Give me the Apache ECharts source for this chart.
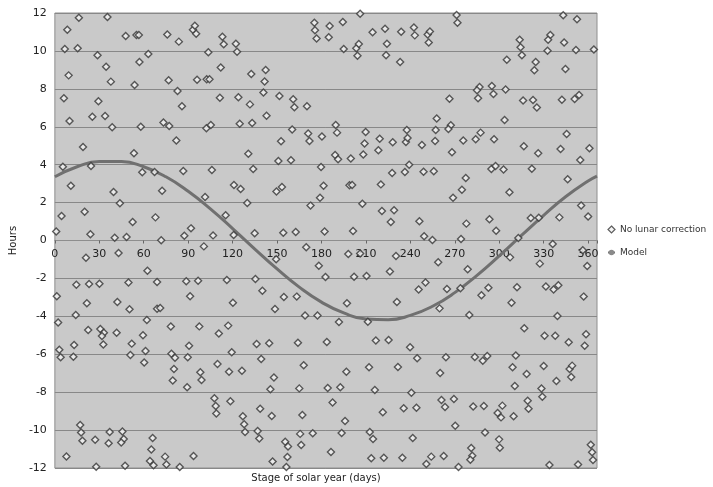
<!DOCTYPE html>
<html>
<head>
<meta charset="utf-8">
<script src="https://cdn.jsdelivr.net/npm/echarts@6/dist/echarts.min.js"></script>
<style>
html,body{margin:0;padding:0;background:#fff;}
#chart{width:713px;height:487px;}
</style>
</head>
<body>
<div id="chart"></div>
<script>
// ---- Data ----
const xTicks = [0, 30, 60, 90, 120, 150, 180, 210, 240, 270, 300, 330, 360];
const yTicks = [-12, -10, -8, -6, -4, -2, 0, 2, 4, 6, 8, 10, 12];
const seriesNames = ['No lunar correction', 'Model'];

// [day of solar year, hours]
const noLunarCorrection = [
[8.4,11.12],[16.2,11.75],[35.5,11.79],[6.7,10.10],[15.4,10.14],[9.3,8.71],[6.1,7.50],[9.9,6.30],[28.8,9.77],[34.6,9.17],[37.8,8.38],[29.4,7.34],[25.3,6.53],[33.9,6.57],[38.7,5.97],[19.0,4.93],[47.8,10.79],[55.1,10.84],[56.7,10.84],[57.1,9.41],[63.1,9.84],[53.8,8.20],[58.0,6.00],[53.4,4.60],[75.9,10.86],[83.7,10.49],[76.8,8.45],[82.8,7.89],[85.8,7.08],[73.3,6.23],[77.2,6.04],[82.0,5.28],[93.2,11.12],[94.5,11.33],[95.4,10.91],[96.0,8.48],[103.6,9.93],[102.5,8.50],[104.4,8.50],[112.0,9.13],[111.4,7.53],[102.3,5.92],[105.3,6.09],[113.1,10.75],[114.0,10.35],[122.2,10.38],[123.0,9.96],[123.9,7.55],[124.8,6.16],[130.6,4.58],
[132.6,8.78],[131.7,7.18],[133.2,6.20],[142.3,8.99],[141.6,8.39],[140.8,7.81],[142.9,6.58],[151.6,7.62],[160.9,7.45],[161.7,7.03],[170.2,7.08],[152.7,5.23],[160.2,5.85],[150.9,4.19],[159.4,4.23],[175.2,11.49],[175.6,11.09],[176.7,10.66],[185.5,11.31],[184.9,10.72],[194.4,11.52],[206.1,11.96],[195.0,10.10],[203.5,10.14],[205.2,10.36],[204.3,9.75],[214.5,10.98],[222.9,11.17],[224.2,10.38],[223.6,9.77],[233.8,11.01],[233.1,9.41],[242.4,11.23],[243.0,10.82],[251.7,10.86],[253.2,11.03],[252.4,10.45],[271.2,11.89],[271.8,11.49],[171.0,5.65],[171.9,5.25],[180.3,5.48],[189.6,6.09],[190.5,5.69],[189.2,4.51],[191.2,4.28],[199.8,4.33],[208.2,4.54],[209.1,5.12],[209.8,5.72],[218.4,4.76],[219.3,5.37],[228.1,5.18],[237.0,5.20],[238.1,5.41],[237.6,5.83],[247.8,5.04],[256.7,5.25],[257.1,5.83],[257.8,6.44],[266.4,7.48],[267.3,6.08],[265.7,5.88],[268.1,4.65],[275.7,5.28],
[343.2,11.88],[352.5,11.67],[313.8,10.59],[314.4,10.19],[315.3,9.77],[334.5,10.84],[333.0,10.59],[332.6,10.01],[343.8,10.45],[351.8,10.05],[363.9,10.07],[305.1,9.54],[324.6,9.41],[323.7,8.98],[344.7,9.05],[286.7,8.10],[285.0,7.92],[285.7,7.50],[295.0,8.15],[296.1,7.73],[304.3,7.96],[316.1,7.38],[322.8,7.41],[325.4,7.01],[342.3,7.43],[350.9,7.46],[353.9,7.67],[303.6,6.36],[287.4,5.69],[284.1,5.34],[296.5,5.34],[316.6,4.97],[326.3,4.60],[341.4,4.83],[345.5,5.62],[360.9,4.86],[354.7,4.25],
[5.4,3.89],[24.4,3.93],[10.8,2.89],[4.5,1.29],[20.1,1.52],[0.9,0.48],[24.0,0.33],[39.6,2.56],[43.9,1.96],[40.4,0.15],[48.4,0.18],[52.5,0.98],[59.0,3.60],[67.3,3.61],[72.4,2.63],[67.9,1.22],[71.8,0.01],[86.7,3.67],[106.0,3.72],[101.4,2.29],[91.9,0.64],[87.4,0.25],[100.6,-0.31],[106.8,0.27],[115.3,1.33],[120.9,2.93],[125.4,2.72],[129.9,1.98],[120.7,0.29],[21.0,-0.91],[43.0,-0.66],[14.5,-2.33],[23.1,-2.29],[30.1,-2.28],[1.3,-2.94],[21.6,-3.31],[14.1,-3.93],[2.2,-4.33],[42.2,-3.24],[49.7,-2.22],[62.5,-1.59],[69.0,-2.19],[50.4,-3.63],[69.0,-3.60],[71.1,-3.56],[62.1,-4.19],[88.7,-2.15],[96.7,-2.12],[91.3,-2.94],[116.1,-2.08],[120.2,-3.28],
[133.9,3.77],[179.7,3.88],[181.4,2.89],[179.0,2.26],[172.6,1.84],[149.6,2.59],[153.3,2.82],[134.9,0.38],[154.2,0.41],[162.6,0.45],[182.1,0.48],[198.9,2.91],[200.7,2.93],[207.6,1.94],[201.3,0.50],[220.1,2.96],[220.8,1.56],[227.7,3.56],[229.0,1.59],[226.8,0.98],[236.3,3.61],[239.2,4.00],[248.9,3.63],[255.8,3.65],[246.1,1.01],[249.3,0.22],[254.9,0.03],[268.8,2.26],[274.8,2.68],[277.4,3.30],[277.8,0.89],[274.2,0.08],[169.7,-0.36],[149.4,-0.99],[178.2,-1.33],[182.7,-1.93],[198.1,-0.71],[202.0,-1.91],[210.4,-1.87],[206.1,-0.68],[230.3,-0.82],[226.2,-1.64],[258.8,-1.15],[278.7,-1.52],[135.4,-2.03],[140.1,-2.65],[154.6,-2.98],[163.3,-2.96],[148.6,-3.61],[168.9,-3.95],[177.3,-3.95],[191.8,-4.30],[197.2,-3.31],[211.3,-4.28],[230.9,-3.24],[245.6,-2.59],[250.2,-2.21],[259.7,-3.58],[264.7,-2.56],[273.8,-2.52],[279.8,-3.93],
[294.7,3.77],[297.5,3.93],[302.9,3.75],[322.0,3.79],[306.9,2.54],[346.2,3.23],[293.4,1.12],[297.9,0.52],[321.3,1.19],[326.7,1.20],[340.6,1.22],[355.3,1.85],[360.0,1.26],[312.9,0.13],[336.1,-0.18],[307.3,-0.89],[327.4,-1.22],[356.4,-0.52],[359.4,-1.34],[288.0,-2.89],[292.7,-2.49],[308.3,-3.28],[312.0,-2.47],[331.5,-2.43],[336.7,-2.59],[339.9,-2.36],[357.0,-2.96],[339.3,-3.98],
[22.5,-4.72],[30.7,-4.67],[33.1,-4.86],[31.8,-5.04],[32.7,-5.49],[41.7,-4.86],[59.5,-5.00],[78.3,-4.54],[97.5,-4.53],[117.0,-4.49],[3.0,-5.76],[3.9,-6.16],[13.0,-5.51],[12.5,-6.13],[51.9,-5.44],[51.0,-6.04],[61.2,-5.83],[60.3,-6.43],[90.6,-5.55],[78.7,-5.97],[81.1,-6.18],[80.4,-6.78],[79.6,-7.39],[89.7,-6.16],[89.3,-7.74],[98.2,-6.95],[99.0,-7.36],[110.7,-4.91],[109.8,-6.51],[119.4,-5.90],[117.6,-6.92],[126.3,-6.87],[118.5,-8.48],[107.7,-8.32],[108.6,-8.73],[109.0,-9.13],[126.9,-9.27],[127.8,-9.69],[128.4,-10.10],[17.1,-9.73],[17.7,-10.13],[18.6,-10.56],[7.8,-11.39],[27.2,-10.51],[37.0,-10.10],[36.3,-10.70],[27.9,-11.93],[45.6,-10.07],[46.5,-10.47],[44.8,-10.66],[47.4,-11.88],[66.0,-10.42],[65.1,-11.03],[64.2,-11.63],[66.6,-11.86],[74.4,-11.40],[75.3,-11.81],[84.3,-11.95],[93.6,-11.37],
[136.2,-5.46],[144.7,-5.42],[164.1,-5.39],[183.6,-5.35],[216.7,-5.28],[225.3,-5.25],[239.8,-5.63],[139.3,-6.25],[147.9,-7.23],[168.0,-6.58],[196.8,-6.92],[212.1,-6.69],[231.6,-6.67],[244.6,-6.21],[264.0,-6.16],[260.1,-6.99],[145.5,-7.85],[165.0,-7.80],[184.2,-7.78],[192.7,-7.74],[216.0,-7.88],[240.7,-8.03],[187.5,-8.55],[138.6,-8.87],[146.4,-9.26],[167.1,-9.20],[221.4,-9.06],[235.5,-8.85],[244.1,-8.82],[261.0,-8.41],[263.4,-8.78],[269.4,-8.36],[195.9,-9.52],[270.3,-9.77],[136.9,-10.05],[138.0,-10.45],[155.5,-10.61],[157.4,-10.86],[166.3,-10.79],[165.6,-10.20],[174.1,-10.17],[193.6,-10.15],[212.6,-10.10],[214.8,-10.47],[241.6,-10.42],[147.0,-11.66],[157.0,-11.42],[156.3,-11.95],[186.4,-11.16],[213.6,-11.49],[222.1,-11.46],[234.6,-11.46],[250.8,-11.79],[254.1,-11.40],[262.5,-11.37],[272.5,-11.95],
[316.9,-4.63],[330.6,-5.02],[337.8,-5.02],[346.9,-5.37],[358.6,-4.95],[357.7,-5.55],[283.5,-6.14],[288.9,-6.34],[291.9,-6.09],[311.2,-6.06],[309.0,-6.69],[318.5,-7.04],[330.0,-6.62],[338.6,-7.41],[347.5,-6.78],[349.2,-6.60],[348.6,-7.20],[310.5,-7.67],[328.5,-7.81],[329.1,-8.24],[282.4,-8.75],[289.6,-8.73],[302.1,-8.71],[298.9,-9.10],[301.2,-9.33],[309.7,-9.27],[319.2,-8.45],[319.8,-8.87],[290.4,-10.13],[299.9,-10.49],[300.4,-10.93],[281.1,-10.95],[281.8,-11.35],[280.5,-11.56],[333.9,-11.84],[353.2,-11.81],[361.8,-10.77],[362.7,-11.17],[363.3,-11.58]
];

// Model curve
const modelDays  = [0, 15, 30, 45, 60, 75, 90, 105, 120, 135, 150, 165, 180, 195, 210, 225, 240, 255, 270, 285, 300, 315, 330, 345, 360, 366];
const modelHours = [3.36, 3.89, 4.17, 4.17, 3.89, 3.36, 2.60, 1.67, 0.63, -0.45, -1.50, -2.46, -3.25, -3.82, -4.14, -4.18, -3.95, -3.47, -2.75, -1.84, -0.81, 0.27, 1.33, 2.32, 3.14, 3.40];

const chart = echarts.init(document.getElementById('chart'), null, {renderer: 'canvas'});
const FONT = 'DejaVu Sans';

const option = {
  animation: false,
  backgroundColor: '#ffffff',
  textStyle: {fontFamily: FONT},
  title: {
    text: 'Stage of solar year (days)',
    left: 316, top: 473, textAlign: 'center', padding: 0,
    textStyle: {fontFamily: FONT, fontSize: 10, fontWeight: 'normal', color: '#222'}
  },
  grid: {
    left: 33, right: 116, top: 13, bottom: 19,
    show: true, backgroundColor: '#c9c9c9', borderColor: '#8e8e8e', borderWidth: 1
  },
  legend: {
    orient: 'vertical',
    left: 607, top: 225,
    padding: 0,
    itemGap: 14,
    itemWidth: 7, itemHeight: 7,
    itemStyle: {borderWidth: 1.2},
    textStyle: {fontFamily: FONT, fontSize: 9, color: '#333', overflow: 'none', width: 120},
    data: [
      {name: seriesNames[0], icon: 'diamond'},
      {name: seriesNames[1]}
    ]
  },
  xAxis: {
    type: 'value', min: 0, max: 366, interval: 30,
    position: 'bottom', offset: 0,
    axisLine: {show: true, onZero: false, lineStyle: {color: '#8e8e8e', width: 1}},
    axisTick: {show: true, length: 3, lineStyle: {color: '#666'}},
    axisLabel: {
      fontFamily: FONT, fontSize: 11, color: '#222', margin: 8,
      formatter: function (v) { return xTicks.indexOf(v) >= 0 ? String(v) : ''; }
    },
    splitLine: {show: false}
  },
  yAxis: {
    type: 'value', min: yTicks[0], max: yTicks[yTicks.length - 1], interval: 2,
    axisLine: {show: false, onZero: false}, axisTick: {show: false},
    axisLabel: {fontFamily: FONT, fontSize: 11, color: '#222', margin: 8},
    splitLine: {show: true, lineStyle: {color: '#888888', width: 1}},
    name: 'Hours', nameLocation: 'middle', nameGap: 18,
    nameTextStyle: {fontFamily: FONT, fontSize: 10, color: '#222'}
  },
  series: [{
    name: seriesNames[0],
    type: 'scatter',
    symbol: 'diamond',
    symbolSize: 7,
    itemStyle: {color: '#f2f2f2', borderColor: '#353535', borderWidth: 1.4},
    data: noLunarCorrection,
    z: 3
  }, {
    name: seriesNames[1],
    type: 'line',
    smooth: true,
    showSymbol: false,
    symbol: 'none',
    lineStyle: {color: '#707070', width: 3},
    itemStyle: {color: '#8a8a8a'},
    data: modelDays.map((d, i) => [d, modelHours[i]]),
    z: 2
  }]
};
chart.setOption(option);
// Place the x axis on the zero line of the y scale (as in the original)
const yZero = chart.convertToPixel({yAxisIndex: 0}, 0);
const yBottom = chart.convertToPixel({yAxisIndex: 0}, yTicks[0]);
chart.setOption({xAxis: {offset: yZero - yBottom}});
</script>
</body>
</html>
